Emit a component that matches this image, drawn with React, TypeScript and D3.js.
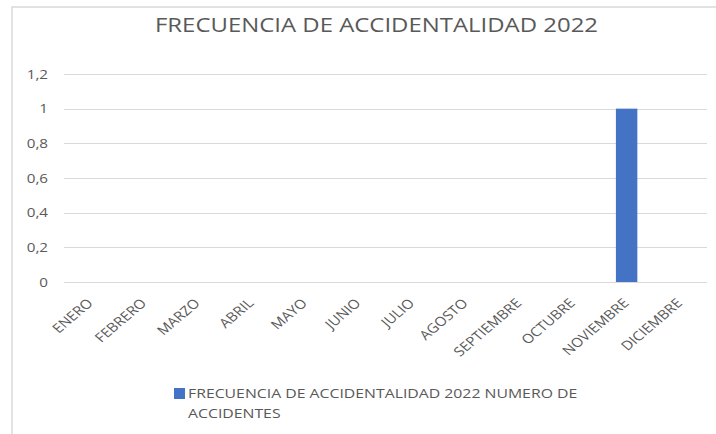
import React from "react";
import * as d3 from "d3";

const title = "FRECUENCIA DE ACCIDENTALIDAD 2022";
const months = ["ENERO", "FEBRERO", "MARZO", "ABRIL", "MAYO", "JUNIO", "JULIO", "AGOSTO", "SEPTIEMBRE", "OCTUBRE", "NOVIEMBRE", "DICIEMBRE"];
const accidentes = [0, 0, 0, 0, 0, 0, 0, 0, 0, 0, 1, 0];
const yTicks = [0, 0.2, 0.4, 0.6, 0.8, 1, 1.2];
const legendLines = ["FRECUENCIA DE ACCIDENTALIDAD 2022 NUMERO DE", "ACCIDENTES"];

const W = 716, H = 434;
const FONT = "'Open Sans', sans-serif";
const TXT = "#595959";
const SX = 1.17;

export default function App() {
  const xc = d3.scaleBand<string>().domain(months).range([64, 707]);
  const y = d3.scaleLinear().domain([0, 1.2]).range([282, 74]);
  const fmt = (v: number) => String(Math.round(v * 10) / 10).replace(".", ",");
  const bw = xc.bandwidth() * 0.4;
  return (
    <svg width={W} height={H} style={{ position: "absolute", left: 0, top: 0, background: "#fff" }}>
      <rect x={12} y={7} width={W + 10} height={H + 10} fill="#fff" stroke="#d9d9d9" strokeWidth={1.5} />
      <text x={155} y={32} textLength={443} lengthAdjust="spacingAndGlyphs" fontFamily={FONT} fontSize={19.5} fill={TXT}>{title}</text>
      {yTicks.map((t) => (
        <g key={t}>
          <line x1={64} x2={707} y1={Math.round(y(t)) + 0.5} y2={Math.round(y(t)) + 0.5} stroke="#d9d9d9" strokeWidth={1} />
          <text transform={`translate(48,${y(t)}) scale(${SX},1)`} dy="0.35em" textAnchor="end" fontFamily={FONT} fontSize={13} fill={TXT}>{fmt(t)}</text>
        </g>
      ))}
      {months.map((m, i) => {
        const cx = (xc(m) as number) + xc.bandwidth() / 2;
        return (
          <g key={m}>
            {accidentes[i] > 0 && (
              <rect x={cx - bw / 2} y={y(accidentes[i])} width={bw} height={y(0) - y(accidentes[i])} fill="#4472C4" />
            )}
            <text transform={`translate(${cx + 3},${304}) scale(${SX},1) rotate(-45)`} textAnchor="end" fontFamily={FONT} fontSize={13} fill={TXT}>{m}</text>
          </g>
        );
      })}
      <rect x={174} y={388} width={11} height={11} fill="#4472C4" />
      {legendLines.map((l, i) => (
        <text key={i} transform={`translate(188,${398 + i * 20}) scale(${SX},1)`} fontFamily={FONT} fontSize={13.5} fill={TXT}>{l}</text>
      ))}
    </svg>
  );
}
